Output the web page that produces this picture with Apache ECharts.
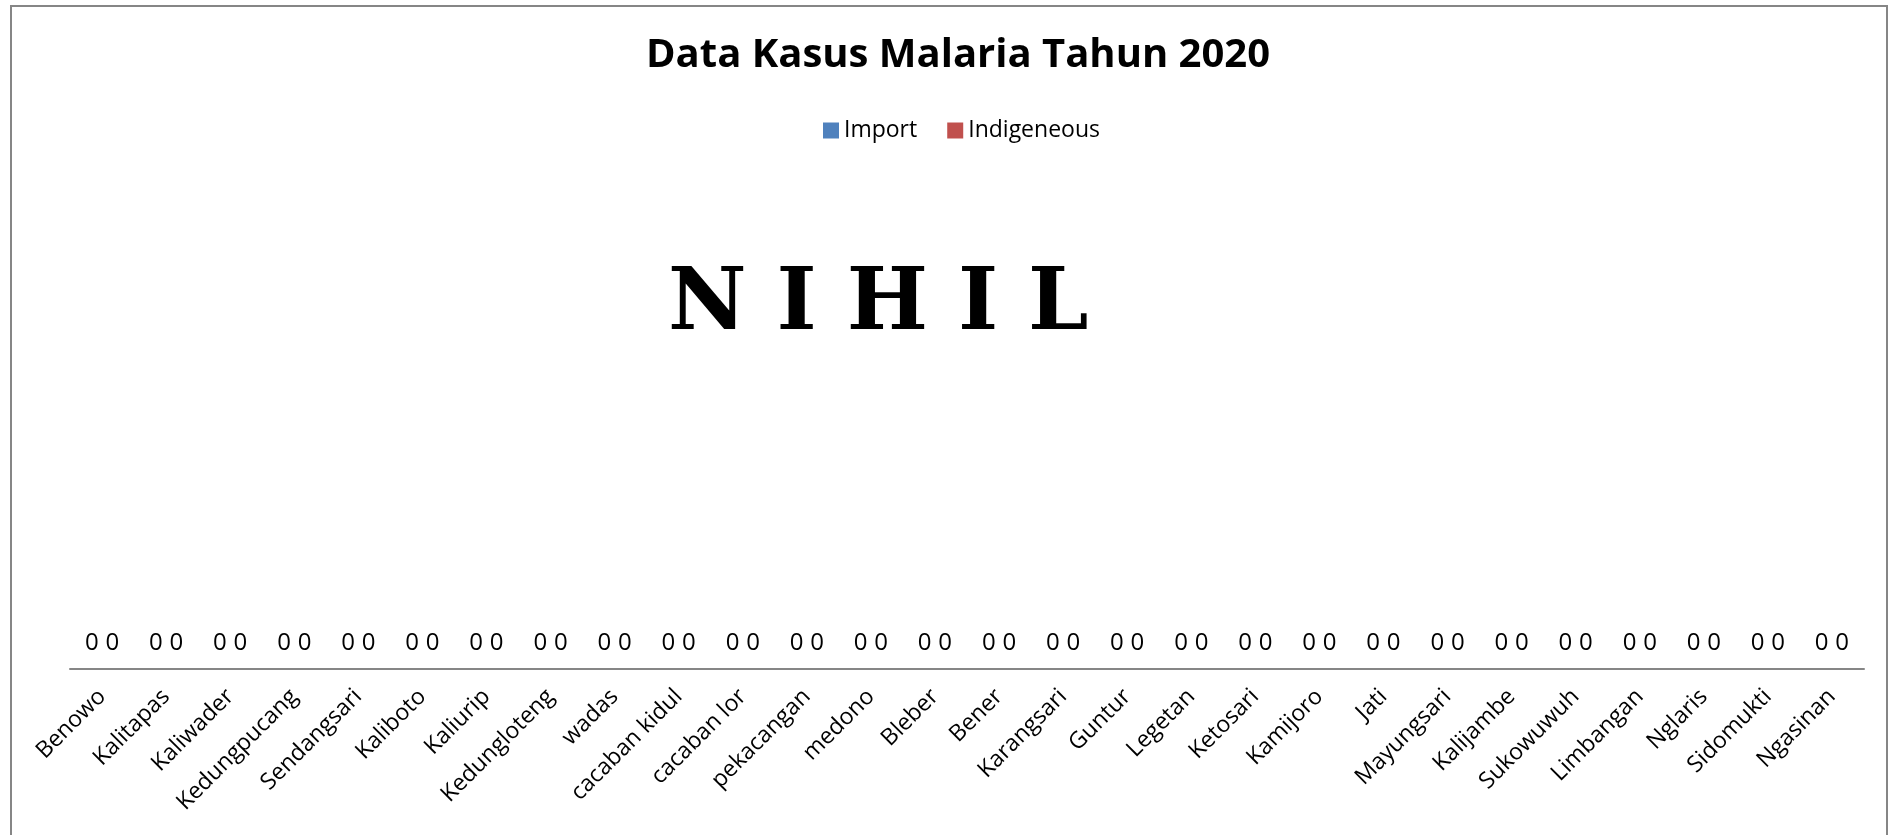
<!DOCTYPE html>
<html>
<head>
<meta charset="utf-8">
<script src="https://cdn.jsdelivr.net/npm/echarts@6/dist/echarts.min.js"></script>
<style>
html,body{margin:0;padding:0;background:#fff;}
#main{width:1889px;height:835px;}
</style>
</head>
<body>
<div id="main"></div>
<script>
var desa = ['Benowo','Kalitapas','Kaliwader','Kedungpucang','Sendangsari','Kaliboto','Kaliurip','Kedungloteng','wadas','cacaban kidul','cacaban lor','pekacangan','medono','Bleber','Bener','Karangsari','Guntur','Legetan','Ketosari','Kamijoro','Jati','Mayungsari','Kalijambe','Sukowuwuh','Limbangan','Nglaris','Sidomukti','Ngasinan'];
var importData = [0,0,0,0,0,0,0,0,0,0,0,0,0,0,0,0,0,0,0,0,0,0,0,0,0,0,0,0];
var indigeneousData = [0,0,0,0,0,0,0,0,0,0,0,0,0,0,0,0,0,0,0,0,0,0,0,0,0,0,0,0];

var myChart = echarts.init(document.getElementById('main'));
var lbl = {
    show: true,
    position: 'top',
    distance: 14,
    color: '#000',
    fontFamily: 'Open Sans',
    fontSize: 24
};
var options = {
    animation: false,
    title: {
        text: 'Data Kasus Malaria Tahun 2020',
        left: 641,
        top: 31,
        textStyle: {
            fontFamily: 'Open Sans',
            fontWeight: 'bold',
            fontSize: 40,
            color: '#000'
        }
    },
    legend: {
        top: 114,
        left: 818,
        itemWidth: 16,
        itemHeight: 16,
        itemGap: 30,
        icon: 'rect',
        textStyle: {fontFamily: 'Open Sans', fontSize: 23, color: '#000'},
        data: ['Import', 'Indigeneous']
    },
    grid: {left: 70, right: 25, top: 160, bottom: 166},
    xAxis: {
        type: 'category',
        data: desa,
        axisLine: {lineStyle: {color: '#868686', width: 2}},
        axisTick: {show: false},
        axisLabel: {
            interval: 0,
            rotate: 45,
            margin: 24,
            color: '#000',
            fontFamily: 'Open Sans',
            fontSize: 23
        }
    },
    yAxis: {
        type: 'value',
        min: 0,
        max: 1,
        show: false
    },
    graphic: [
        {
            type: 'rect',
            shape: {x: 11, y: 6, width: 1876, height: 840},
            style: {fill: 'none', stroke: '#868686', lineWidth: 2}
        },
        {
            type: 'text',
            left: 668,
            top: 264,
            style: {
                text: 'N I H I L',
                font: 'bold 86px "DejaVu Serif"',
                fill: '#000'
            }
        }
    ],
    series: [
        {
            name: 'Import',
            type: 'bar',
            data: importData,
            barGap: '0%',
            barCategoryGap: '36%',
            itemStyle: {color: '#4F81BD'},
            label: lbl
        },
        {
            name: 'Indigeneous',
            type: 'bar',
            data: indigeneousData,
            itemStyle: {color: '#C0504D'},
            label: lbl
        }
    ]
};
myChart.setOption(options);
</script>
</body>
</html>
